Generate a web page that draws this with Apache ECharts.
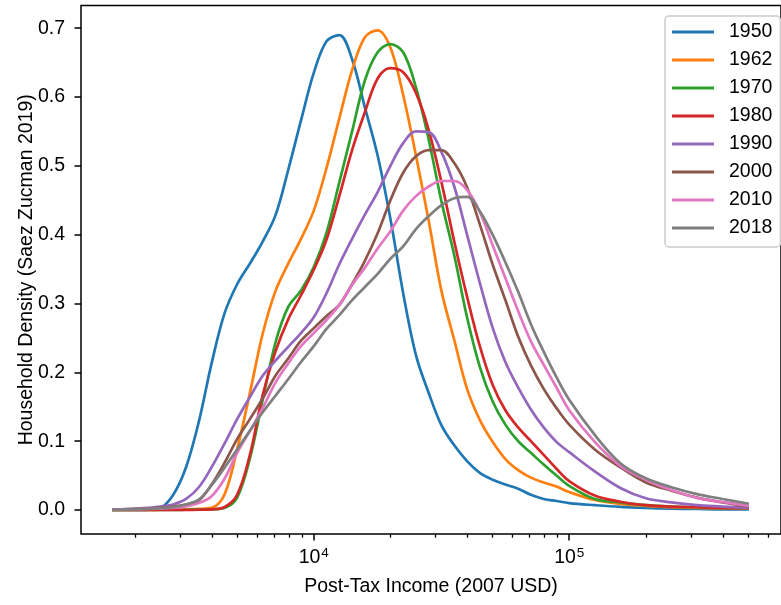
<!DOCTYPE html>
<html>
<head>
<meta charset="utf-8">
<script src="https://cdn.jsdelivr.net/npm/echarts@6/dist/echarts.min.js"></script>
<style>
html,body{margin:0;padding:0;background:#fff;}
#chart{width:781px;height:605px;}
</style>
</head>
<body>
<div id="chart"></div>
<script>
// Income grid (2007 USD) (log-spaced)
const incomes = [1625, 1778, 1995, 2239, 2512, 2818, 3162, 3548, 3981, 4467,
  5012, 5623, 6310, 7079, 7943, 8913, 10000, 11220, 12589, 14125,
  15849, 17783, 19953, 22387, 25119, 28184, 31623, 35481, 39811, 44668,
  50119, 56234, 63096, 70795, 79433, 89125, 100000, 125893, 158489, 199526,
  251189, 316228, 398107, 505000];

const years = ['1950', '1962', '1970', '1980', '1990', '2000', '2010', '2018'];

const d1950 = [0, 0, 0, 0.0005, 0.003, 0.022, 0.062, 0.128, 0.213, 0.285,
  0.328, 0.358, 0.39, 0.428, 0.494, 0.566, 0.635, 0.681, 0.690, 0.655,
  0.585, 0.515, 0.423, 0.315, 0.225, 0.17, 0.123, 0.094, 0.071, 0.054,
  0.044, 0.037, 0.031, 0.022, 0.016, 0.013, 0.010, 0.007, 0.0045, 0.003,
  0.002, 0.0015, 0.001, 0.001];
const d1962 = [0, 0, 0, 0, 0.0003, 0.0005, 0.001, 0.0015, 0.003, 0.022,
  0.088, 0.17, 0.256, 0.318, 0.358, 0.394, 0.435, 0.497, 0.569, 0.639,
  0.687, 0.697, 0.672, 0.603, 0.515, 0.42, 0.318, 0.247, 0.176, 0.131,
  0.099, 0.074, 0.058, 0.047, 0.04, 0.034, 0.026, 0.0145, 0.0087, 0.006,
  0.004, 0.003, 0.0025, 0.002];
const d1970 = [0, 0, 0, 0, 0, 0, 0.0003, 0.0005, 0.001, 0.003,
  0.018, 0.075, 0.16, 0.243, 0.295, 0.319, 0.353, 0.403, 0.476, 0.55,
  0.624, 0.665, 0.677, 0.665, 0.614, 0.538, 0.448, 0.37, 0.28, 0.208,
  0.158, 0.124, 0.1, 0.083, 0.066, 0.05, 0.035, 0.016, 0.011, 0.007,
  0.005, 0.004, 0.003, 0.0025];
const d1980 = [0, 0, 0, 0, 0, 0, 0, 0.0003, 0.001, 0.004,
  0.022, 0.08, 0.167, 0.23, 0.277, 0.312, 0.349, 0.393, 0.456, 0.523,
  0.578, 0.627, 0.642, 0.636, 0.606, 0.552, 0.476, 0.39, 0.31, 0.238,
  0.182, 0.145, 0.12, 0.1, 0.08, 0.06, 0.042, 0.021, 0.012, 0.007,
  0.005, 0.004, 0.003, 0.0025];
const d1990 = [0.0005, 0.001, 0.0015, 0.003, 0.005, 0.008, 0.016, 0.033, 0.062, 0.096,
  0.132, 0.164, 0.195, 0.217, 0.237, 0.257, 0.28, 0.315, 0.357, 0.394,
  0.429, 0.462, 0.5, 0.533, 0.55, 0.549, 0.52, 0.47, 0.4, 0.33,
  0.265, 0.215, 0.178, 0.146, 0.12, 0.099, 0.084, 0.056, 0.032, 0.017,
  0.011, 0.007, 0.005, 0.003];
const d2000 = [0.0005, 0.001, 0.0015, 0.002, 0.003, 0.005, 0.008, 0.014, 0.037, 0.068,
  0.103, 0.132, 0.162, 0.195, 0.22, 0.246, 0.264, 0.282, 0.298, 0.328,
  0.362, 0.402, 0.45, 0.49, 0.514, 0.523, 0.523, 0.504, 0.469, 0.415,
  0.357, 0.305, 0.252, 0.21, 0.176, 0.148, 0.124, 0.088, 0.062, 0.04,
  0.028, 0.018, 0.011, 0.005];
const d2010 = [0.0003, 0.0005, 0.001, 0.0015, 0.002, 0.003, 0.005, 0.01, 0.02, 0.045,
  0.083, 0.115, 0.148, 0.185, 0.213, 0.238, 0.257, 0.276, 0.298, 0.327,
  0.352, 0.38, 0.405, 0.435, 0.456, 0.47, 0.478, 0.478, 0.465, 0.433,
  0.385, 0.337, 0.289, 0.245, 0.211, 0.178, 0.145, 0.099, 0.064, 0.044,
  0.029, 0.0175, 0.0116, 0.006];
const d2018 = [0.0003, 0.0006, 0.001, 0.0015, 0.0025, 0.004, 0.008, 0.015, 0.036, 0.061,
  0.088, 0.115, 0.142, 0.166, 0.19, 0.215, 0.238, 0.263, 0.283, 0.305,
  0.324, 0.343, 0.365, 0.383, 0.408, 0.427, 0.443, 0.453, 0.455, 0.434,
  0.4, 0.36, 0.317, 0.27, 0.23, 0.193, 0.16, 0.109, 0.068, 0.046,
  0.033, 0.023, 0.016, 0.009];

const densities = [d1950, d1962, d1970, d1980, d1990, d2000, d2010, d2018];
const colors = ['#1f77b4', '#ff7f0e', '#2ca02c', '#d62728', '#9467bd', '#8c564b', '#e377c2', '#7f7f7f'];

const yTicks = [0, 0.1, 0.2, 0.3, 0.4, 0.5, 0.6, 0.7];
const xMajor = [10000, 100000];
const xMinor = [2000, 3000, 4000, 5000, 6000, 7000, 8000, 9000,
  20000, 30000, 40000, 50000, 60000, 70000, 80000, 90000,
  200000, 300000, 400000, 500000, 600000];

const FONT = "'Liberation Sans', Arial, sans-serif";
const FS = 19.5;
const X_MIN = 1227, X_MAX = 674500;
const Y_MIN = -0.0349, Y_MAX = 0.733;
const GRID_RECT = {left: 81, top: 5.5, right: -10.6, bottom: 71};

const chart = echarts.init(document.getElementById('chart'), null, {renderer: 'canvas'});

const series = years.map((y, i) => ({
  name: y,
  type: 'line',
  xAxisIndex: 0,
  yAxisIndex: 0,
  data: incomes.map((x, k) => [x, densities[i][k]]),
  symbol: 'none',
  smooth: 0.35,
  lineStyle: {width: 2.7, color: colors[i]},
  itemStyle: {color: colors[i]},
  animation: false,
  z: 2 + i
}));

const option = {
  animation: false,
  backgroundColor: '#fff',
  textStyle: {fontFamily: FONT},
  grid: [
    Object.assign({show: true, borderColor: '#000', borderWidth: 1.5, backgroundColor: 'transparent', containLabel: false}, GRID_RECT),
    Object.assign({show: false, containLabel: false}, GRID_RECT)
  ],
  legend: {
    orient: 'vertical',
    left: 665, top: 16,
    padding: [6, 8, 9, 7],
    itemGap: 8,
    itemWidth: 42, itemHeight: 3,
    icon: 'rect',
    backgroundColor: 'rgba(255,255,255,0.8)',
    borderColor: '#cccccc', borderWidth: 1.5, borderRadius: 4,
    textStyle: {fontFamily: FONT, fontSize: FS, color: '#000', lineHeight: 20, padding: [0, 0, 0, 10]},
    data: years
  },
  xAxis: [{
    gridIndex: 0,
    type: 'log', logBase: 10, min: X_MIN, max: X_MAX,
    position: 'bottom',
    name: 'Post-Tax Income (2007 USD)', nameLocation: 'middle', nameGap: 43,
    nameMoveOverlap: false,
    nameTextStyle: {fontFamily: FONT, fontSize: FS, color: '#000'},
    axisLine: {show: false, onZero: false},
    splitLine: {show: false},
    minorTick: {show: false},
    axisTick: {show: true, customValues: xMinor, length: 3.7, lineStyle: {color: '#000', width: 1.3}},
    axisLabel: {
      customValues: xMajor, margin: 12, color: '#000',
      formatter: v => '{b|10}{s|' + Math.round(Math.log10(v)) + '}',
      rich: {
        b: {fontFamily: FONT, fontSize: FS, color: '#000', lineHeight: 22, verticalAlign: 'bottom'},
        s: {fontFamily: FONT, fontSize: 13.5, color: '#000', lineHeight: 14, verticalAlign: 'top', padding: [0, 0, 0, 1]}
      }
    }
  }, {
    gridIndex: 1,
    type: 'log', logBase: 10, min: X_MIN, max: X_MAX,
    position: 'bottom',
    axisLine: {show: false, onZero: false},
    splitLine: {show: false},
    axisLabel: {show: false},
    axisTick: {show: true, customValues: xMajor, length: 6.5, lineStyle: {color: '#000', width: 1.5}}
  }],
  yAxis: [{
    gridIndex: 0,
    type: 'value', min: Y_MIN, max: Y_MAX,
    position: 'left',
    name: 'Household Density (Saez Zucman 2019)', nameLocation: 'middle', nameGap: 44,
    nameMoveOverlap: false,
    nameTextStyle: {fontFamily: FONT, fontSize: FS, color: '#000'},
    axisLine: {show: false, onZero: false},
    splitLine: {show: false},
    axisTick: {show: true, customValues: yTicks, length: 6.5, lineStyle: {color: '#000', width: 1.5}},
    axisLabel: {
      customValues: yTicks, margin: 16, color: '#000',
      fontFamily: FONT, fontSize: FS,
      formatter: v => Number(v).toFixed(1)
    }
  }, {
    gridIndex: 1,
    type: 'value', min: Y_MIN, max: Y_MAX,
    position: 'left',
    show: false
  }],
  series: series
};

chart.setOption(option);
</script>
</body>
</html>
